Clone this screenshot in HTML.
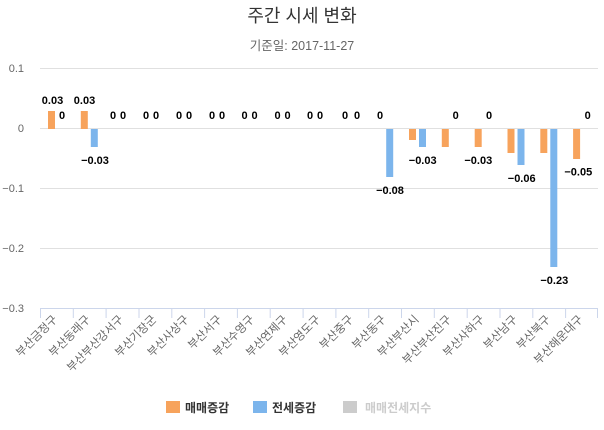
<!DOCTYPE html>
<html><head><meta charset="utf-8"><style>
body{margin:0;background:#fff;}
svg{display:block;font-family:"Liberation Sans","Noto Sans CJK KR",sans-serif;}
.g{stroke:#e0e0e0;stroke-width:1}
.y{font-size:11px;fill:#666;text-anchor:end}
.l{font-size:11px;font-weight:bold;fill:#000;text-anchor:middle}
.x{font-size:11.5px;fill:#666;text-anchor:end}
</style></head><body>
<svg width="604" height="430" viewBox="0 0 604 430">
<text x="302" y="22" font-size="18" fill="#333" text-anchor="middle">주간 시세 변화</text>
<text x="302" y="50" font-size="12.5" fill="#666" text-anchor="middle">기준일: 2017-11-27</text>
<line class="g" x1="40" x2="598" y1="68.5" y2="68.5"/>
<line class="g" x1="40" x2="598" y1="128.5" y2="128.5"/>
<line class="g" x1="40" x2="598" y1="188.5" y2="188.5"/>
<line class="g" x1="40" x2="598" y1="248.5" y2="248.5"/>
<line x1="40" x2="598" y1="308.5" y2="308.5" stroke="#ccd6eb"/>
<g stroke="#ccd6eb">
<line x1="40.5" x2="40.5" y1="308" y2="318"/><line x1="73.3" x2="73.3" y1="308" y2="318"/><line x1="106.1" x2="106.1" y1="308" y2="318"/><line x1="139" x2="139" y1="308" y2="318"/><line x1="171.8" x2="171.8" y1="308" y2="318"/><line x1="204.6" x2="204.6" y1="308" y2="318"/><line x1="237.4" x2="237.4" y1="308" y2="318"/><line x1="270.2" x2="270.2" y1="308" y2="318"/><line x1="303.1" x2="303.1" y1="308" y2="318"/><line x1="335.9" x2="335.9" y1="308" y2="318"/><line x1="368.7" x2="368.7" y1="308" y2="318"/><line x1="401.5" x2="401.5" y1="308" y2="318"/><line x1="434.3" x2="434.3" y1="308" y2="318"/><line x1="467.2" x2="467.2" y1="308" y2="318"/><line x1="500" x2="500" y1="308" y2="318"/><line x1="532.8" x2="532.8" y1="308" y2="318"/><line x1="565.6" x2="565.6" y1="308" y2="318"/><line x1="597.5" x2="597.5" y1="308" y2="318"/>
</g>
<text class="y" x="24" y="72">0.1</text>
<text class="y" x="24" y="132">0</text>
<text class="y" x="24" y="192">−0.1</text>
<text class="y" x="24" y="252">−0.2</text>
<text class="y" x="24" y="312">−0.3</text>
<g fill="#f7a35c">
<rect x="48" y="111" width="7" height="18"/>
<rect x="80.8" y="111" width="7" height="18"/>
<rect x="409" y="129" width="7" height="11"/>
<rect x="441.8" y="129" width="7" height="18"/>
<rect x="474.7" y="129" width="7" height="18"/>
<rect x="507.5" y="129" width="7" height="24"/>
<rect x="540.3" y="129" width="7" height="24"/>
<rect x="573.1" y="129" width="7" height="30"/>
</g>
<g fill="#7cb5ec">
<rect x="90.8" y="129" width="7" height="18"/>
<rect x="386.2" y="129" width="7" height="48"/>
<rect x="419" y="129" width="7" height="18"/>
<rect x="517.5" y="129" width="7" height="36"/>
<rect x="550.3" y="129" width="7" height="138"/>
</g>
<text class="l" x="52.5" y="104">0.03</text>
<text class="l" x="84.5" y="104">0.03</text>
<text class="l" x="62" y="119">0</text>
<text class="l" x="113" y="119">0</text><text class="l" x="123" y="119">0</text>
<text class="l" x="146" y="119">0</text><text class="l" x="156" y="119">0</text>
<text class="l" x="179" y="119">0</text><text class="l" x="189" y="119">0</text>
<text class="l" x="212" y="119">0</text><text class="l" x="222" y="119">0</text>
<text class="l" x="244.5" y="119">0</text><text class="l" x="254.5" y="119">0</text>
<text class="l" x="277.5" y="119">0</text><text class="l" x="287.5" y="119">0</text>
<text class="l" x="310" y="119">0</text><text class="l" x="320" y="119">0</text>
<text class="l" x="345" y="119">0</text><text class="l" x="357" y="119">0</text>
<text class="l" x="380" y="119">0</text>
<text class="l" x="455.7" y="119">0</text>
<text class="l" x="489" y="119">0</text>
<text class="l" x="587.7" y="119">0</text>
<text class="l" x="95" y="164">−0.03</text>
<text class="l" x="390" y="194">−0.08</text>
<text class="l" x="422.7" y="164">−0.03</text>
<text class="l" x="478.3" y="164">−0.03</text>
<text class="l" x="521.7" y="182">−0.06</text>
<text class="l" x="554.3" y="284">−0.23</text>
<text class="l" x="578.3" y="175.7">−0.05</text>
<g class="x">
<text transform="translate(58,320) rotate(-45)">부산금정구</text>
<text transform="translate(91,320) rotate(-45)">부산동래구</text>
<text transform="translate(124,320) rotate(-45)">부산부산강서구</text>
<text transform="translate(157,320) rotate(-45)">부산기장군</text>
<text transform="translate(189.5,320) rotate(-45)">부산사상구</text>
<text transform="translate(222.5,320) rotate(-45)">부산서구</text>
<text transform="translate(255,320) rotate(-45)">부산수영구</text>
<text transform="translate(288,320) rotate(-45)">부산연제구</text>
<text transform="translate(321,320) rotate(-45)">부산영도구</text>
<text transform="translate(354,320) rotate(-45)">부산중구</text>
<text transform="translate(386.5,320) rotate(-45)">부산동구</text>
<text transform="translate(419.5,320) rotate(-45)">부산부산시</text>
<text transform="translate(452,320) rotate(-45)">부산부산진구</text>
<text transform="translate(485,320) rotate(-45)">부산사하구</text>
<text transform="translate(518,320) rotate(-45)">부산남구</text>
<text transform="translate(551,320) rotate(-45)">부산북구</text>
<text transform="translate(583.5,320) rotate(-45)">부산해운대구</text>
</g>
<rect x="166" y="401" width="14" height="12" fill="#f7a35c"/>
<text x="185" y="412" font-size="12" font-weight="bold" fill="#333">매매증감</text>
<rect x="253" y="401" width="14" height="12" fill="#7cb5ec"/>
<text x="272" y="412" font-size="12" font-weight="bold" fill="#333">전세증감</text>
<rect x="343" y="401" width="14" height="12" fill="#ccc"/>
<text x="365" y="412" font-size="12" font-weight="bold" fill="#ccc">매매전세지수</text>
</svg>
</body></html>
